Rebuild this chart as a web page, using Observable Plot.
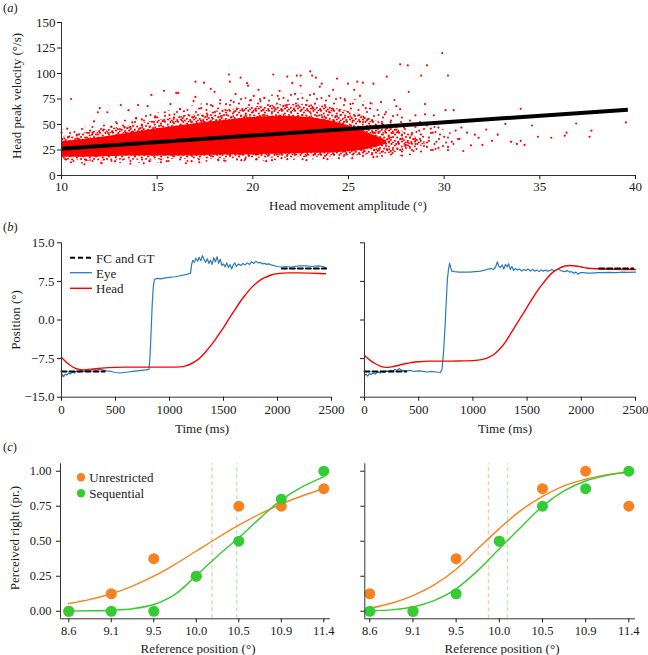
<!DOCTYPE html>
<html><head><meta charset="utf-8">
<script src="https://cdn.jsdelivr.net/npm/d3@7"></script>
<script src="https://cdn.jsdelivr.net/npm/@observablehq/plot@0.6"></script>
<style>
body{margin:0;background:#fff;}
#fig{position:relative;width:648px;height:655px;overflow:hidden;font-family:"Liberation Serif","Times New Roman",serif;color:#1a1a1a;background:#fff;}
.t{position:absolute;white-space:nowrap;font-size:13px;line-height:1;}
</style></head>
<body><div id="fig"></div>
<script>
// ---------- Panel (a): head amplitude vs peak velocity ----------
const ampTicks = [10, 15, 20, 25, 30, 35, 40];
const velTicks = [0, 25, 50, 75, 100, 125, 150];
// envelopes of the point cloud (sparse fringe, dense speckle, solid core), read per degree
const outerX  = [10, 11, 12, 13, 14, 15, 16, 17, 18, 19, 20, 21, 22, 23, 24, 25, 26, 27, 28, 29, 30, 31];
const outerLo = [13, 11, 11, 12, 12, 12, 13, 13, 13, 13, 14, 14, 15, 15, 16, 16, 17, 18, 19, 21, 24, 31];
const outerHi = [44, 47, 50, 53, 57, 61, 65, 69, 72, 75, 77, 79, 80, 80, 78, 76, 72, 66, 58, 52, 45, 35];
const midX    = [10, 11, 12, 13, 14, 15, 16, 17, 18, 19, 20, 21, 22, 23, 24, 25, 26, 27, 28, 29];
const midLo   = [15, 14, 14, 15, 15, 15, 16, 16, 16, 16, 17, 17, 17, 18, 18, 19, 20, 21, 24, 30];
const midHi   = [38, 41, 44, 47, 50, 54, 57, 60, 63, 65, 67, 69, 70, 70, 67, 63, 57, 50, 42, 34];
const coreX   = [10, 11, 12, 13, 14, 15, 16, 17, 18, 19, 20, 21, 22, 23, 24, 25, 26, 27];
const coreLo  = [18, 18, 18, 19, 19, 19, 19, 19, 20, 20, 20, 21, 21, 22, 22, 23, 25, 31];
const coreHi  = [33, 35, 37, 40, 43, 46, 48, 51, 53, 55, 57, 58, 58, 57, 54, 49, 42, 34];
// individual points outside the dense cloud
const outX = [10.0,10.3,10.5,10.5,10.8,11.2,11.5,11.7,11.9,12.0,12.1,12.4,12.6,12.9,13.1,13.5,13.6,13.9,14.0,14.3,14.5,14.7,14.9,15.2,15.35,15.4,15.7,16.0,16.1,16.2,16.5,16.9,17.0,17.0,17.2,17.45,17.6,17.8,18.0,18.3,18.5,18.75,18.8,19.1,19.36,19.6,19.7,19.75,20.05,20.3,20.4,20.7,21.07,21.4,21.5,21.8,22.06,22.3,22.5,22.5,22.8,23.0,23.1,23.3,23.5,23.6,23.9,24.2,24.4,24.97,25.3,25.46,25.6,25.75,25.2,26.15,26.3,26.5,26.7,26.9,27.0,27.0,27.2,27.4,27.5,27.7,27.7,27.8,27.9,28.0,28.1,28.15,28.2,28.3,28.5,28.5,28.8,28.7,29.0,29.0,29.1,29.1,29.2,29.4,29.4,29.46,29.6,29.7,29.7,29.9,30.0,30.07,30.2,30.2,30.2,30.5,30.6,30.9,31.2,31.4,31.6,32.0,32.2,32.5,33.2,33.5,33.8,34.0,34.0,34.2,34.6,34.9,35.6,36.3,36.4,36.9,37.6,37.7,39.5,
  25.5,25.8,26.0,26.2,26.4,26.6,26.8,27.1,27.3,27.5,27.6,28.4,28.6,28.9,29.3,30.4,30.8,31.0,31.8,32.8,
  10.2,10.4,10.6,10.9,11.3,11.6,12.2,12.8,13.3,13.7,14.2,14.6,15.0,15.5,15.9,16.4,16.8,17.3,17.9,18.2,18.6,19.0,19.4,19.9,20.2,20.6,21.0,21.3,21.8,22.2,22.6,23.2,23.7,24.0,24.5,24.8,25.1,25.9,26.3];
const outY = [42,46,75,13,40,11,44,53,62,66,12,62,48,51,69,64,11.5,56,69,12,68,79,58,13,83,62,70,81,81,65,12,73,77,92,13,91,70,85,82,74,14.7,99,92,80,96,16,90.5,88,78,84,73,14,99,83,17,97,90.5,98,88,98,15,102,98,96,87,90,16,84,95,90,84,92,78,91,17,71,90,18.6,72,60,97,26,52,74,68,109,65,19.6,47,30,108,82,28,40,59,35,98,44,70,60,108,28,34,42,25,59,33,47,27,120,38,64,98,28,25,64,44,47,42,29.6,40,30,45,34,50.6,33,31,65.4,34,30,49,38,37,39,42,51,38,44,52,
  45,35,55,30,42,25,50,38,22,45,33,24,50,38,46,33,36,24,37,40,
  16,38,20,36,15,40,45,14,47,52,55,14,57,14,60,63,14,66,68,15,70,72,15,74,16,76,15,78,16,80,16,80,17,78,17,75,70,66,18];
// regression line
const fitAmp = [10, 39.6];
const fitVel = [26.2, 64.5];

// ---------- Panel (b): eye / head position traces ----------
const timeTicks = [0, 500, 1000, 1500, 2000, 2500];
const posTicks = [-15, -7.5, 0, 7.5, 15];
const eyeT1 = [0,10,20,35,50,65,80,100,120,140,160,180,200,230,260,290,320,350,380,420,460,500,540,580,620,660,700,740,780,810,820,830,840,850,860,870,890,920,960,1000,1050,1100,1150,1195,1205,1215,1230,1245,1260,1275,1290,1305,1320,1335,1350,1365,1380,1395,1410,1425,1440,1455,1470,1485,1500,1515,1530,1545,1560,1575,1590,1605,1620,1640,1660,1680,1700,1720,1740,1760,1780,1800,1820,1840,1860,1880,1900,1920,1940,1960,1980,2000,2040,2080,2120,2160,2200,2260,2320,2380,2420,2445];
const eyeV1 = [-11.2,-10.6,-11.0,-10.5,-10.7,-10.3,-10.5,-10.1,-10.3,-9.9,-10.1,-9.8,-10.0,-9.7,-9.9,-9.6,-9.8,-9.6,-9.7,-9.9,-10.0,-10.2,-10.3,-10.2,-10.1,-10.0,-9.9,-9.8,-9.7,-9.6,-7.0,-2.0,3.0,6.5,7.8,8.0,8.1,8.0,8.2,8.3,8.4,8.6,8.8,9.1,10.8,11.6,11.2,12.0,11.4,12.2,11.5,12.5,11.8,11.2,11.9,11.0,11.6,10.8,12.1,11.3,12.3,11.0,11.8,10.6,10.9,10.3,11.1,10.2,10.8,9.9,10.7,11.1,10.4,10.9,10.6,11.0,10.7,11.1,10.8,11.3,11.0,11.4,11.1,11.2,10.9,11.0,10.8,10.9,10.7,10.6,10.5,10.4,10.3,10.4,10.3,10.4,10.5,10.5,10.4,10.5,10.4,10.2];
const headT1 = [0,40,80,120,160,200,250,300,400,500,600,800,1000,1100,1150,1200,1250,1300,1350,1400,1450,1500,1550,1600,1650,1700,1750,1800,1850,1900,1950,2000,2100,2200,2300,2445];
const headV1 = [-7.3,-8.1,-8.8,-9.3,-9.6,-9.7,-9.6,-9.5,-9.3,-9.2,-9.15,-9.15,-9.15,-9.1,-8.9,-8.5,-7.9,-7.0,-5.8,-4.5,-3.0,-1.5,0.2,1.8,3.4,4.8,6.1,7.1,7.9,8.4,8.8,9.0,9.15,9.15,9.1,9.0];
const refT1 = [0, 400, 2040, 2450];
const refV1 = [-10, -10, 10, 10];
const refG1 = ["start", "start", "end", "end"];

const eyeT2 = [0,15,30,45,60,80,100,120,140,160,180,200,220,240,260,280,300,320,335,350,380,420,460,500,540,580,620,660,700,715,730,745,755,765,775,785,795,805,830,870,920,970,1020,1070,1110,1140,1170,1190,1210,1225,1240,1255,1270,1285,1300,1315,1330,1345,1360,1375,1390,1410,1430,1450,1470,1490,1510,1530,1550,1570,1590,1610,1630,1650,1670,1690,1710,1730,1750,1770,1790,1810,1830,1850,1870,1890,1910,1930,1950,1970,1990,2020,2060,2100,2150,2200,2260,2320,2380,2440,2500];
const eyeV2 = [-10.8,-10.5,-10.9,-10.4,-10.6,-10.3,-10.5,-10.1,-10.3,-10.0,-10.2,-9.9,-10.0,-9.8,-9.9,-9.6,-9.8,-9.4,-9.7,-9.8,-9.9,-9.8,-10.0,-9.9,-10.0,-10.1,-10.0,-10.1,-10.2,-9.6,-6.0,-0.5,4.0,8.0,9.8,11.0,10.2,9.5,9.4,9.3,9.3,9.3,9.4,9.5,9.7,9.9,10.0,9.8,10.3,11.3,10.4,10.2,10.7,9.9,10.8,10.3,10.9,9.8,10.4,9.6,10.0,9.7,9.9,9.5,9.8,9.6,9.9,9.5,9.8,9.5,9.7,9.4,9.7,9.5,9.7,9.5,9.6,9.8,9.5,9.7,9.9,9.6,9.5,9.4,9.6,9.3,9.4,9.1,9.3,8.9,9.2,9.2,9.1,9.1,9.2,9.2,9.25,9.2,9.3,9.25,9.3];
const headT2 = [0,50,100,150,200,250,300,350,400,450,500,600,700,800,900,1000,1050,1100,1150,1200,1250,1300,1350,1400,1450,1500,1550,1600,1650,1700,1750,1800,1850,1900,1950,2000,2050,2100,2200,2300,2500];
const headV2 = [-6.9,-7.8,-8.5,-9.0,-9.2,-9.1,-8.9,-8.6,-8.4,-8.2,-8.1,-8.0,-8.0,-8.0,-7.95,-7.9,-7.8,-7.6,-7.2,-6.6,-5.6,-4.3,-2.6,-0.9,0.8,2.5,4.2,5.8,7.2,8.5,9.5,10.1,10.5,10.6,10.5,10.3,10.1,10.0,9.9,9.85,9.8];
const refT2 = [0, 385, 2165, 2480];
const refV2 = [-10, -10, 10, 10];
const refG2 = ["start", "start", "end", "end"];

// ---------- Panel (c): psychometric data ----------
const refLabels = ["8.6", "9.1", "9.5", "10.0", "10.5", "10.9", "11.4"];
const refIdx = [0, 1, 2, 3, 4, 5, 6];
const propTicks = [0, 0.25, 0.5, 0.75, 1];
const unrestrictedL = [0, 0.125, 0.375, 0.25, 0.75, 0.75, 0.875];
const sequentialL   = [0, 0, 0, 0.25, 0.5, 0.8, 1.0];
const unrestrictedR = [0.125, 0, 0.375, 0.5, 0.875, 1.0, 0.75];
const sequentialR   = [0, 0, 0.125, 0.5, 0.75, 0.875, 1.0];
const fitIdx = [0, 0.5, 1, 1.5, 2, 2.5, 3, 3.5, 4, 4.5, 5, 5.5, 6];
const unrFitL = [0.055, 0.085, 0.125, 0.18, 0.25, 0.335, 0.43, 0.525, 0.615, 0.695, 0.765, 0.825, 0.875];
const seqFitL = [0.001, 0.003, 0.007, 0.018, 0.048, 0.12, 0.255, 0.395, 0.525, 0.665, 0.795, 0.89, 0.96];
const unrFitR = [0.021, 0.057, 0.112, 0.19, 0.30, 0.446, 0.59, 0.72, 0.82, 0.896, 0.943, 0.976, 0.993];
const seqFitR = [0.004, 0.01, 0.03, 0.077, 0.16, 0.29, 0.446, 0.60, 0.75, 0.86, 0.93, 0.97, 0.995];
const pseL = [3.37, 3.95];
const pseR = [2.75, 3.19];

// ---------- colours ----------
const RED = "#ff0000", BLUE = "#2b7bba", ORANGE = "#f7821f", GREEN = "#33cc33";
const ORANGE_L = "#f9cda6", GREEN_L = "#bfeabf", AXIS = "#333";

const fig = document.getElementById("fig");
const baseStyle = {background: "transparent", overflow: "visible", fontFamily: '"Liberation Serif","Times New Roman",serif', color: "#1a1a1a"};
function put(node, left, top) {
  node.style.position = "absolute";
  node.style.left = left + "px";
  node.style.top = top + "px";
  fig.appendChild(node);
}
function text(html, cx, cy, opts = {}) {
  const d = document.createElement("div");
  d.className = "t";
  d.innerHTML = html;
  d.style.left = cx + "px";
  d.style.top = cy + "px";
  d.style.fontSize = (opts.size || 13) + "px";
  const anchor = opts.left ? "translate(0,-50%)" : "translate(-50%,-50%)";
  d.style.transform = anchor + (opts.rot ? " rotate(-90deg)" : "");
  fig.appendChild(d);
}

// ----- (a) -----
const plotA = Plot.plot({
  width: 648, height: 215,
  marginLeft: 61, marginRight: 13, marginTop: 22, marginBottom: 40,
  style: baseStyle,
  x: {domain: [10, 40]},
  y: {domain: [0, 150]},
  marks: [
    Plot.areaY(outerX, {x: outerX, y1: outerLo, y2: outerHi, fill: "url(#speckSparse)", curve: "basis"}),
    Plot.areaY(midX, {x: midX, y1: midLo, y2: midHi, fill: "url(#speckDense)", curve: "basis"}),
    Plot.areaY(coreX, {x: coreX, y1: coreLo, y2: coreHi, fill: RED, curve: "basis"}),
    Plot.dot(outX, {x: outX, y: outY, r: 1.1, fill: RED}),
    Plot.line(fitAmp, {x: fitAmp, y: fitVel, stroke: "#000", strokeWidth: 4, strokeLinecap: "butt"}),
    Plot.ruleY([0], {x1: 10, x2: 40, stroke: AXIS}),
    Plot.ruleX([10], {y1: 0, y2: 150, stroke: AXIS}),
    Plot.axisX({ticks: ampTicks, tickSize: 4, tickPadding: 2, label: null, fontSize: 13}),
    Plot.axisY({ticks: velTicks, tickSize: 4, tickPadding: 2, label: null, fontSize: 13})
  ]
});
// speckle textures standing in for the thousands of overlapping dots
const defs = d3.select(plotA).insert("defs", ":first-child");
const sparse = defs.append("pattern").attr("id", "speckSparse").attr("patternUnits", "userSpaceOnUse")
  .attr("width", 19).attr("height", 17);
[[2,3],[11,1.5],[16.5,8],[6,10],[13,14],[3,15.5],[9,6.5],[17.5,13]].forEach(([cx, cy]) =>
  sparse.append("circle").attr("cx", cx).attr("cy", cy).attr("r", 1.05).attr("fill", RED));
const dense = defs.append("pattern").attr("id", "speckDense").attr("patternUnits", "userSpaceOnUse")
  .attr("width", 13).attr("height", 11);
[[1.5,1],[5,2.5],[9,0.8],[11.8,3.5],[3,5],[7.2,5.5],[10.2,7.2],[0.8,8],[4.8,8.8],[8.2,10],[12,9.5],[2.8,10.6],[6.5,0.2],[12.4,6.4]].forEach(([cx, cy]) =>
  dense.append("circle").attr("cx", cx).attr("cy", cy).attr("r", 1.1).attr("fill", RED));
put(plotA, 0, 0);

// ----- (b) -----
function tracePlot(eyeT, eyeV, headT, headV, refT, refV, refG, showY, w, ml, mr) {
  return Plot.plot({
    width: w, height: 190,
    marginLeft: ml, marginRight: mr, marginTop: 12.3, marginBottom: 23.3,
    style: baseStyle,
    x: {domain: [0, 2500]},
    y: {domain: [-15, 15]},
    marks: [
      Plot.line(eyeT, {x: eyeT, y: eyeV, stroke: BLUE, strokeWidth: 1.2}),
      Plot.line(headT, {x: headT, y: headV, stroke: RED, strokeWidth: 1.4, curve: "monotone-x"}),
      Plot.line(refT, {x: refT, y: refV, z: refG, stroke: "#000", strokeWidth: 2, strokeDasharray: "5,3"}),
      Plot.ruleY([-15], {x1: 0, x2: 2500, stroke: AXIS}),
      Plot.ruleX([0], {y1: -15, y2: 15, stroke: AXIS}),
      Plot.axisX({ticks: timeTicks, tickFormat: d3.format("d"), tickSize: 4, tickPadding: 4, label: null, fontSize: 13}),
      Plot.axisY({ticks: posTicks, tickSize: 4, tickPadding: 3, label: null, fontSize: 13,
        tickFormat: showY ? d3.format(".1f") : () => ""})
    ]
  });
}
put(tracePlot(eyeT1, eyeV1, headT1, headV1, refT1, refV1, refG1, true, 340, 61, 9), 0, 230);
put(tracePlot(eyeT2, eyeV2, headT2, headV2, refT2, refV2, refG2, false, 318, 34, 13), 330, 230);

// ----- (c) -----
function psychPlot(unr, seq, unrFit, seqFit, pse, showY, w, ml, mr, xmin) {
  const ymin = -0.054, ymax = 1.053;
  return Plot.plot({
    width: w, height: 190,
    marginLeft: ml, marginRight: mr, marginTop: 13.3, marginBottom: 21.7,
    style: baseStyle,
    x: {domain: [xmin, 6.155]},
    y: {domain: [ymin, ymax]},
    marks: [
      Plot.ruleX([pse[0]], {y1: ymin, y2: ymax, stroke: ORANGE_L, strokeWidth: 1.5, strokeDasharray: "4,3"}),
      Plot.ruleX([pse[1]], {y1: ymin, y2: ymax, stroke: GREEN_L, strokeWidth: 1.5, strokeDasharray: "4,3"}),
      Plot.line(fitIdx, {x: fitIdx, y: unrFit, stroke: ORANGE, strokeWidth: 1.4, curve: "monotone-x"}),
      Plot.line(fitIdx, {x: fitIdx, y: seqFit, stroke: GREEN, strokeWidth: 1.4, curve: "monotone-x"}),
      Plot.dot(refIdx, {x: refIdx, y: unr, r: 5.5, fill: ORANGE}),
      Plot.dot(refIdx, {x: refIdx, y: seq, r: 5.5, fill: GREEN}),
      Plot.ruleY([ymin], {x1: xmin, x2: 6.155, stroke: AXIS}),
      Plot.ruleX([xmin], {y1: ymin, y2: ymax, stroke: AXIS}),
      Plot.axisX({ticks: refIdx, tickFormat: i => refLabels[i], tickSize: 4, tickPadding: 3, label: null, fontSize: 12.5}),
      Plot.axisY({ticks: propTicks, tickSize: 4, tickPadding: 5, label: null, fontSize: 12.5,
        tickFormat: showY ? d3.format(".2f") : () => ""})
    ]
  });
}
put(psychPlot(unrestrictedL, sequentialL, unrFitL, seqFitL, pseL, true, 340, 60, 10.1, -0.195), 0, 450);
put(psychPlot(unrestrictedR, sequentialR, unrFitR, seqFitR, pseR, false, 318, 34.3, 13, -0.116), 330, 450);

// ----- legends -----
const legB = document.createElementNS("http://www.w3.org/2000/svg", "svg");
legB.setAttribute("width", 130); legB.setAttribute("height", 50);
legB.innerHTML =
  '<line x1="1" x2="23" y1="7.7" y2="7.7" stroke="#000" stroke-width="2" stroke-dasharray="5,3"/>' +
  '<line x1="1" x2="23" y1="22.7" y2="22.7" stroke="' + BLUE + '" stroke-width="1.3"/>' +
  '<line x1="1" x2="23" y1="38.3" y2="38.3" stroke="' + RED + '" stroke-width="1.4"/>';
put(legB, 69, 250);
text("FC and GT", 96, 257.7, {left: true});
text("Eye", 96, 272.7, {left: true});
text("Head", 96, 288.3, {left: true});

const legC = document.createElementNS("http://www.w3.org/2000/svg", "svg");
legC.setAttribute("width", 20); legC.setAttribute("height", 30);
legC.innerHTML =
  '<circle cx="10" cy="7.3" r="4.2" fill="' + ORANGE + '"/>' +
  '<circle cx="10" cy="23.3" r="4.2" fill="' + GREEN + '"/>';
put(legC, 70.7, 470);
text("Unrestricted", 89.3, 477.3, {left: true});
text("Sequential", 89.3, 493.3, {left: true});

// ----- titles and labels -----
text("(<i>a</i>)", 3, 7.5, {left: true, size: 12.5});
text("(<i>b</i>)", 3, 226.5, {left: true, size: 12.5});
text("(<i>c</i>)", 3, 446.5, {left: true, size: 12.5});
text("Head movement amplitude (°)", 348, 204.5);
text("Head peak velocity (°/s)", 16, 96, {rot: true});
text("Position (°)", 15, 320, {rot: true});
text("Time (ms)", 202, 428);
text("Time (ms)", 505, 428);
text("Perceived right (pr.)", 14, 538, {rot: true});
text("Reference position (°)", 198, 648);
text("Reference position (°)", 502, 648);
</script></body></html>
